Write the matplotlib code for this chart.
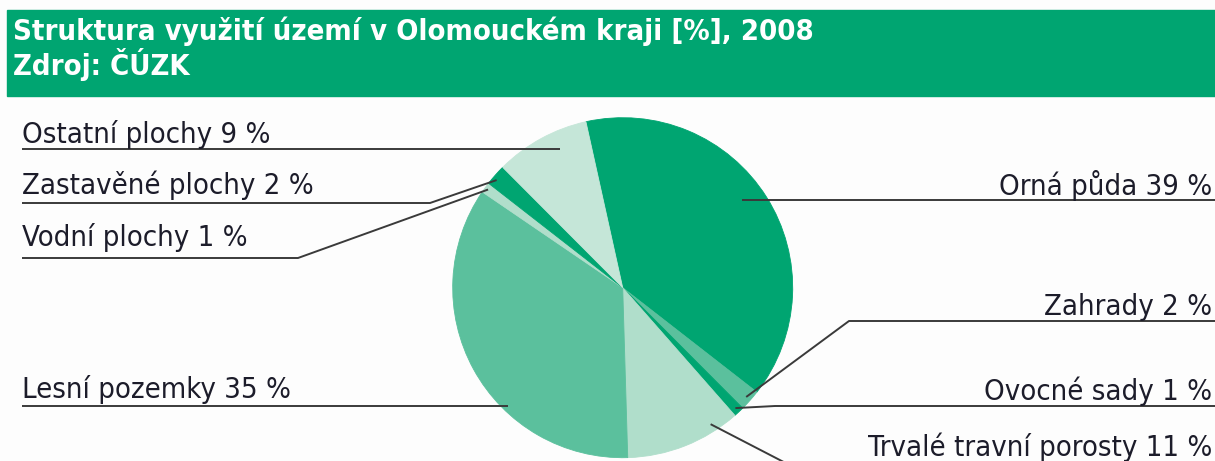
import matplotlib.pyplot as plt
import numpy as np
from matplotlib.patches import Rectangle

W, H = 1215, 461  # velikost obrazku v px

title = 'Struktura využití území v Olomouckém kraji [%], 2008'
source = 'Zdroj: ČÚZK'

categories = ['Orná půda', 'Zahrady', 'Ovocné sady', 'Trvalé travní porosty',
              'Lesní pozemky', 'Vodní plochy', 'Zastavěné plochy', 'Ostatní plochy']
values = [39, 2, 1, 11, 35, 1, 2, 9]

dark = '#00A571'
mid = '#5BC09D'
light = '#B0DECB'
pale = '#C5E6D8'
colors = [dark, mid, dark, light, mid, light, dark, pale]

# popisky: strana, uctari text (y px), y podtrzeni, x zlomu, poloha kotvy v kruhove vysece
labels_layout = [
    ('right', 195, None, None, 0.47, 0.87),
    ('right', 315, 321, 849, 0.50, 0.97),
    ('right', 400, 406, 775, 0.50, 0.97),
    ('right', 456, 472, 803, 0.215, 0.955),
    ('left', 398, None, None, 0.363, 0.97),
    ('left', 246, 258, 298, 0.50, 0.98),
    ('left', 194, 203, 430, 0.36, 0.975),
    ('left', 143, None, None, 0.64, 0.895),
]

cx, cy, R = 622.7, 287.7, 170
start = 102.5

FONT = ['Liberation Sans Narrow', 'DejaVu Sans']


def Y(y):
    return H - y


def main():
    fig = plt.figure(figsize=(W / 100, H / 100), dpi=100, facecolor='#FDFDFD')
    ax = fig.add_axes([0, 0, 1, 1])
    ax.set_facecolor('#FDFDFD')

    wedges, _ = ax.pie(values, colors=colors, startangle=start, counterclock=False,
                       center=(cx, Y(cy)), radius=R, frame=True,
                       wedgeprops=dict(linewidth=0.6))
    for w, c in zip(wedges, colors):
        w.set_edgecolor(c)

    # hlavicka
    ax.add_patch(Rectangle((7, Y(96)), W - 7, 86, color='#00A571', zorder=3))
    ax.text(13, Y(40), title, color='white', fontsize=21, fontweight='bold',
            family=FONT, fontstretch='condensed', va='baseline', zorder=4)
    ax.text(13, Y(75), source, color='white', fontsize=21, fontweight='bold',
            family=FONT, fontstretch='condensed', va='baseline', zorder=4)

    # popisky a vodici cary
    total = float(sum(values))
    cum = np.concatenate([[0], np.cumsum(values)])
    a0 = start - 360 * cum[:-1] / total
    a1 = start - 360 * cum[1:] / total
    for i, (side, ty, ly, kx, f, rf) in enumerate(labels_layout):
        ang = np.radians(a0[i] + f * (a1[i] - a0[i]))
        axp = cx + rf * R * np.cos(ang)
        ayp = Y(cy) + rf * R * np.sin(ang)
        if ly is None:
            ly_d = ayp
            kx = axp
        else:
            ly_d = Y(ly)
        txt = f'{categories[i]} {values[i]} %'
        if side == 'right':
            xs = [axp, kx, W]
            ys = [ayp, ly_d, ly_d]
            ax.text(1212, Y(ty), txt, ha='right', va='baseline', fontsize=21,
                    color='#1c1c2a', family=FONT, fontstretch='condensed')
        else:
            xs = [22, kx, axp]
            ys = [ly_d, ly_d, ayp]
            ax.text(22, Y(ty), txt, ha='left', va='baseline', fontsize=21,
                    color='#1c1c2a', family=FONT, fontstretch='condensed')
        ax.plot(xs, ys, color='#3a3a3a', lw=1.4, solid_capstyle='butt')

    ax.set_xlim(0, W)
    ax.set_ylim(0, H)
    ax.set_aspect('equal')
    ax.axis('off')

    fig.savefig('out.png', dpi=100, facecolor=fig.get_facecolor())
    return 0


if __name__ == "__main__":
    main()
